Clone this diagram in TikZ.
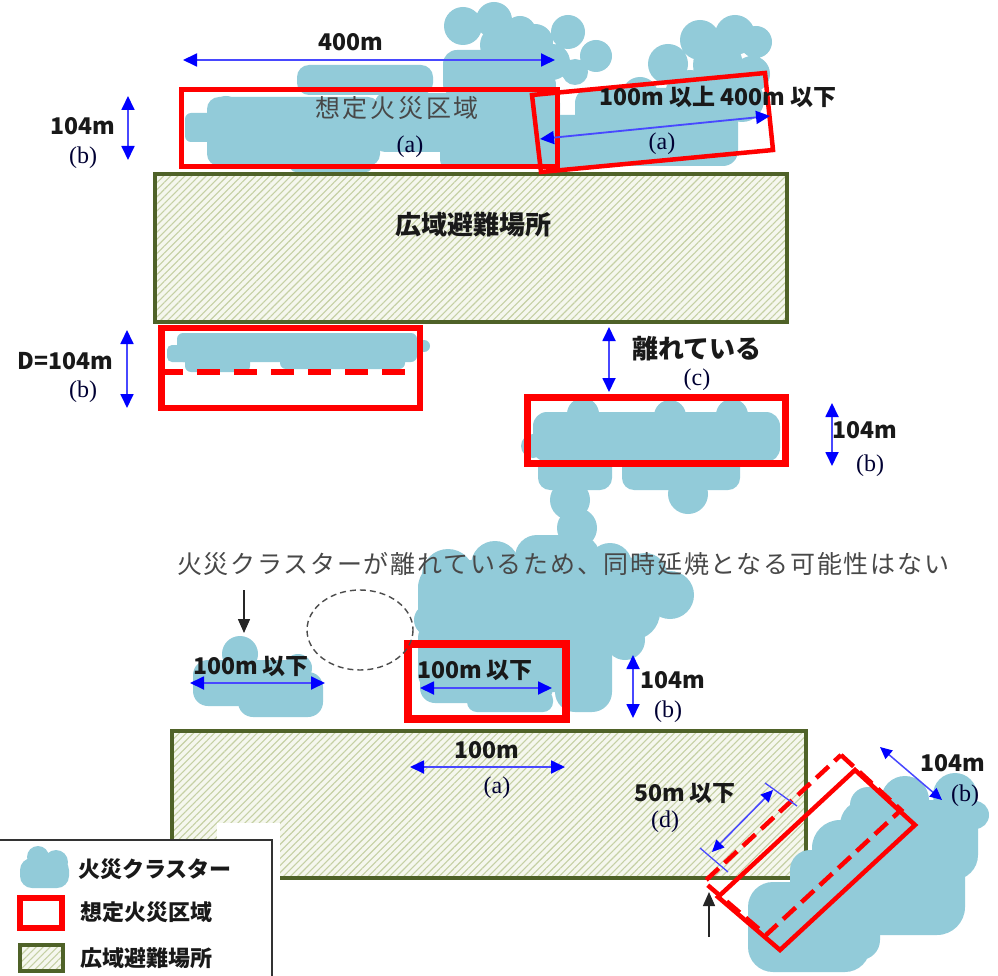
\documentclass[tikz,border=0pt]{standalone}
\usepackage{fontspec}
\usetikzlibrary{arrows.meta,patterns.meta}
\newfontfamily\jpfont{Noto Sans CJK JP}
\newfontfamily\serfont{Liberation Serif}
\definecolor{fire}{HTML}{92CBD9}
\definecolor{zonered}{HTML}{FF0000}
\definecolor{parkline}{HTML}{4F6228}
\definecolor{hatchline}{HTML}{C5D0A4}
\definecolor{hatchbg}{HTML}{F5F7EE}
\definecolor{dimhead}{HTML}{0000FF}
\definecolor{dimshaft}{HTML}{4848FF}
\definecolor{softtext}{HTML}{484848}
\tikzset{
  cluster/.style={fill=fire},
  zone/.style={draw=zonered, line width=#1},
  zone/.default=5,
  park/.style={draw=parkline, line width=3.5, preaction={fill=hatchbg},
    pattern={Lines[angle=45,distance=5pt,line width=1.1pt]}, pattern color=hatchline},
  dim/.style={draw=dimshaft, line width=1.8, <->, >={Triangle[length=14pt,width=13pt,color=dimhead]}},
  smalldim/.style={draw=dimshaft, line width=1.5, <->, >={Triangle[length=12pt,width=11pt,color=dimhead]}},
  pointer/.style={draw=black!85, line width=1.5, ->, >={Triangle[length=14pt,width=12pt]}},
  lab/.style={font=\jpfont\bfseries\fontsize{23}{23}\selectfont, text=black!90, inner sep=0},
  paren/.style={font=\serfont\fontsize{24}{24}\selectfont, text=black!80!blue, inner sep=0},
}
\begin{document}
\begin{tikzpicture}[x=1pt,y=-1pt]
\clip (0,0) rectangle (998,976);
\fill[white] (0,0) rectangle (998,976);

% ---- evacuation areas ----
\draw[park] (155,174) rectangle (787,322);
\draw[park] (172,731) rectangle (806,878);

% ---- fire clusters ----
% top row
\fill[cluster,rounded corners=12] (207,97) rectangle (380,166);
\fill[cluster,rounded corners=6] (185,113) rectangle (250,142);
\fill[cluster] (225,153) circle[radius=13] (226,110) circle[radius=14];
\fill[cluster,rounded corners=10] (375,93) rectangle (560,152);
\fill[cluster,rounded corners=8] (440,140) rectangle (560,168);
\fill[cluster,rounded corners=6] (290,150) rectangle (372,172);
\fill[cluster,rounded corners=12] (297,65) rectangle (433,95);
\fill[cluster,rounded corners=14] (443,50) rectangle (545,98);
\fill[cluster] (463,26) circle[radius=19] (494,20) circle[radius=18] (520,32) circle[radius=16]
  (500,45) circle[radius=20] (535,42) circle[radius=18]
  (568,32) circle[radius=17] (596,56) circle[radius=16] (552,62) circle[radius=18]
  (575,72) circle[radius=13] (540,85) circle[radius=16];
\fill[cluster] (700,40) circle[radius=20] (735,35) circle[radius=20] (756,42) circle[radius=16]
  (668,64) circle[radius=20] (718,65) circle[radius=25] (752,74) circle[radius=18]
  (690,95) circle[radius=25] (742,100) circle[radius=22] (640,95) circle[radius=18];
\fill[cluster,rounded corners=15] (575,88) rectangle (738,166);
\fill[cluster,rounded corners=8] (545,115) rectangle (600,168);
% lower left strip
\fill[cluster,rounded corners=6] (177,333) rectangle (417,362);
\fill[cluster,rounded corners=5] (167,345) rectangle (195,362);
\fill[cluster,rounded corners=6] (185,352) rectangle (250,372);
\fill[cluster,rounded corners=6] (280,352) rectangle (405,369);
\fill[cluster] (424,346) circle[radius=6];
% right strip and the chain below it
\fill[cluster,rounded corners=14] (533,412) rectangle (780,462);
\fill[cluster] (583,414) circle[radius=16] (670,416) circle[radius=16] (732,415) circle[radius=16]
  (533,446) circle[radius=12];
\fill[cluster,rounded corners=12] (538,455) rectangle (612,490);
\fill[cluster,rounded corners=12] (622,455) rectangle (740,490);
\fill[cluster] (688,494) circle[radius=20] (570,500) circle[radius=20] (577,528) circle[radius=20];
% middle group
\fill[cluster,rounded corners=22] (515,535) rectangle (600,585);
\fill[cluster,rounded corners=28] (418,560) rectangle (660,640);
\fill[cluster] (448,575) circle[radius=26] (495,565) circle[radius=24] (548,560) circle[radius=22]
  (610,565) circle[radius=22] (670,595) circle[radius=24] (645,575) circle[radius=22]
  (430,620) circle[radius=16] (625,640) circle[radius=20];
\fill[cluster,rounded corners=20] (555,600) rectangle (612,712);
\fill[cluster,rounded corners=18] (418,620) rectangle (600,692);
\fill[cluster,rounded corners=15] (420,650) rectangle (553,703);
\fill[cluster,rounded corners=10] (467,690) rectangle (553,712);
% small left group
\fill[cluster] (240,654) circle[radius=18] (298,668) circle[radius=14];
\fill[cluster,rounded corners=15] (193,660) rectangle (310,706);
\fill[cluster,rounded corners=15] (238,672) rectangle (323,717);
% bottom right group
\fill[cluster] (905,800) circle[radius=24] (955,795) circle[radius=22] (975,815) circle[radius=14]
  (868,805) circle[radius=18] (940,900) circle[radius=22];
\fill[cluster,rounded corners=25] (840,800) rectangle (978,880);
\fill[cluster,rounded corners=28] (812,820) rectangle (965,935);
\fill[cluster,rounded corners=25] (748,882) rectangle (870,972);
\fill[cluster,rounded corners=20] (790,850) rectangle (880,960);

% ---- assumed fire zones ----
\draw[zone=5] (181,90) rectangle (557,167);
\draw[zone=4.5] (532,95) -- (765,73) -- (773,150) -- (541,172) -- cycle;
\draw[zone=6.5] (161.5,328) rectangle (420,408);
\draw[zonered, line width=6, dash pattern=on 23 off 14, dash phase=5] (165,371.5) -- (410,371.5);
\draw[zone=7] (527,397) rectangle (785,463);
\draw[zone=8] (408,644) rectangle (566,719);
\draw[zonered, line width=4.5, dash pattern=on 17 off 8] (841,755) -- (901,810) -- (766,935) -- (704,882) -- cycle;
\draw[zone=4.5] (855,770) -- (915,825) -- (780,950) -- (718,897) -- cycle;

% ---- dimension arrows ----
\coordinate (w1) at (183,60);   \coordinate (w2) at (555,60);
\draw[dim] (w1) -- (w2);
\coordinate (h1) at (128,96);   \coordinate (h2) at (128,160);
\draw[dim] (h1) -- (h2);
\coordinate (s1) at (540,139);  \coordinate (s2) at (770,116);
\draw[dim] (s1) -- (s2);
\coordinate (d1) at (127,330);  \coordinate (d2) at (127,408);
\draw[dim] (d1) -- (d2);
\coordinate (g1) at (609,327);  \coordinate (g2) at (609,392);
\draw[dim] (g1) -- (g2);
\coordinate (r1) at (832,403);  \coordinate (r2) at (832,466);
\draw[dim] (r1) -- (r2);
\coordinate (p1) at (190,683);  \coordinate (p2) at (325,683);
\draw[dim] (p1) -- (p2);
\coordinate (q1) at (420,688);  \coordinate (q2) at (552,688);
\draw[dim] (q1) -- (q2);
\coordinate (m1) at (633,655);  \coordinate (m2) at (633,718);
\draw[dim] (m1) -- (m2);
\coordinate (e1) at (410,767);  \coordinate (e2) at (565,767);
\draw[dim] (e1) -- (e2);
\coordinate (k1) at (765,783);  \coordinate (k2) at (797,806);
\coordinate (k3) at (700,848);  \coordinate (k4) at (728,872);
\draw[draw=dimshaft, line width=1.3] (k1) -- (k2) (k3) -- (k4);
\coordinate (f1) at (773,790);  \coordinate (f2) at (712,852);
\draw[smalldim] (f1) -- (f2);
\coordinate (n1) at (880,747);  \coordinate (n2) at (942,800);
\draw[smalldim] (n1) -- (n2);

% ---- black pointers and the dashed gap ----
\coordinate (a1) at (244,590);  \coordinate (a2) at (244,633);
\draw[pointer] (a1) -- (a2);
\coordinate (b1) at (709,937);  \coordinate (b2) at (709,892);
\draw[pointer] (b1) -- (b2);
\draw[draw=black!70, line width=1.4, dash pattern=on 6 off 4] (360,630) ellipse [x radius=53, y radius=40];

% ---- labels ----
\node[lab] (t400) at (351,42) {400m};
\node[lab] (tb1) at (83,126) {104m};
\node[paren] (pb1) at (83,158) {(b)};
\node[font=\jpfont\fontsize{25}{25}\selectfont\addfontfeature{LetterSpace=11}, text=softtext, inner sep=0] (tzone) at (397,108) {想定火災区域};
\node[paren] (pa1) at (410,147) {(a)};
\node[lab, font=\jpfont\bfseries\fontsize{26}{26}\selectfont] (tpark) at (473,225) {広域避難場所};
\node[lab] (trange) at (718,97) {100m 以上 400m 以下};
\node[paren] (pa2) at (662,144) {(a)};
\node[lab] (tD) at (65,361) {D=104m};
\node[paren] (pb2) at (83,392) {(b)};
\node[lab, font=\jpfont\bfseries\fontsize{26}{26}\selectfont] (tapart) at (697,349) {離れている};
\node[paren] (pc) at (697,380) {(c)};
\node[lab] (tb3) at (865,430) {104m};
\node[paren] (pb3) at (870,466) {(b)};
\node[font=\jpfont\fontsize{25}{26}\selectfont\addfontfeature{LetterSpace=7}, text=softtext, inner sep=0] (tnote) at (563,564)
  {火災クラスターが離れているため、同時延焼となる可能性はない};
\node[lab] (tl1) at (251,666) {100m 以下};
\node[lab] (tl2) at (475,670) {100m 以下};
\node[lab] (tb4) at (673,680) {104m};
\node[paren] (pb4) at (668,712) {(b)};
\node[lab] (t100) at (487,750) {100m};
\node[paren] (pa3) at (497,788) {(a)};
\node[lab] (t50) at (685,793) {50m 以下};
\node[paren] (pd) at (665,822) {(d)};
\node[lab] (tb5) at (953,763) {104m};
\node[paren] (pb5) at (965,796) {(b)};

% ---- legend ----
\fill[white] (217,823) rectangle (280,880);
\draw[fill=white, draw=black!80, line width=2] (-5,840) rectangle (272,1000);
\fill[cluster] (38,857) circle[radius=11] (56,862) circle[radius=12];
\fill[cluster,rounded corners=12] (20,858) rectangle (69,888);
\draw[zone=6.5] (20,898) rectangle (62,928);
\draw[park, line width=4] (20,945) rectangle (63,971);
\node[lab, font=\jpfont\bfseries\fontsize{22}{22}\selectfont, anchor=west] (lg1) at (78,869) {火災クラスター};
\node[lab, font=\jpfont\bfseries\fontsize{22}{22}\selectfont, anchor=west] (lg2) at (80,912) {想定火災区域};
\node[lab, font=\jpfont\bfseries\fontsize{22}{22}\selectfont, anchor=west] (lg3) at (80,958) {広域避難場所};
\end{tikzpicture}
\end{document}
